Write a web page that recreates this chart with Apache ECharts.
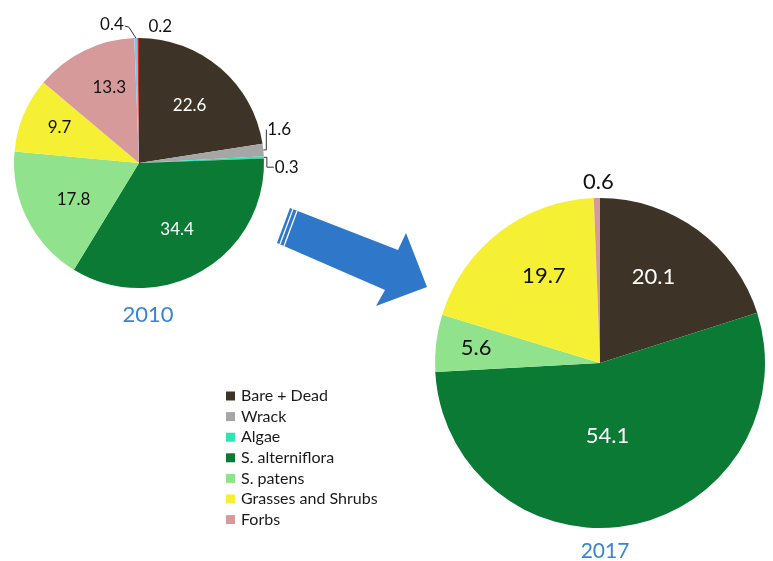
<!DOCTYPE html>
<html>
<head>
<meta charset="utf-8">
<script src="https://cdn.jsdelivr.net/npm/echarts@6/dist/echarts.min.js"></script>
<style>
html, body { margin: 0; padding: 0; background: #fff; }
#chart { width: 773px; height: 561px; }
</style>
</head>
<body>
<div id="chart"></div>
<script>
// land cover classes (last two are unlabelled slivers in 2010, not in the legend)
var categories = ['Bare + Dead', 'Wrack', 'Algae', 'S. alterniflora', 'S. patens', 'Grasses and Shrubs', 'Forbs', 'Other 1', 'Other 2'];
var legendNames = ['Bare + Dead', 'Wrack', 'Algae', 'S. alterniflora', 'S. patens', 'Grasses and Shrubs', 'Forbs'];
var values2010 = [22.6, 1.6, 0.3, 34.4, 17.8, 9.7, 13.3, 0.4, 0.2];
var values2017 = [20.1, 0, 0, 54.1, 5.6, 19.7, 0.6, 0, 0];
var years = ['2010', '2017'];

var colors = ['#3d3427', '#a6a6a6', '#2fe3b2', '#0b7a34', '#90e38c', '#f5f033', '#d69a9b', '#7fc8e6', '#d9261c'];
var whiteText = [true, false, false, true, false, false, false, false, false];
var FONT = 'Lato, "Open Sans", sans-serif';

// label nudges (dx, dy), Excel "best fit" positions
var nudge2010 = [[8, -8], [-4, -20], [3, 10], [5, 10], [-7, 7], [-19, -10], [-1, -17], [-7, -11], [39, -8]];
var nudge2017 = [[3, -17], [0, 0], [0, 0], [-8, -11], [-39, -5], [-4, -19], [22, -10], [0, 0], [0, 0]];
var noLine = [false, false, false, false, false, false, false, false, true];

function buildData(values, small) {
    var out = [];
    for (var i = 0; i < values.length; i++) {
        if (!values[i]) continue;
        var item = {
            name: categories[i],
            value: values[i],
            itemStyle: { color: colors[i] },
            label: { color: whiteText[i] ? '#ffffff' : '#111111' }
        };
        if (values[i] < small) {
            item.label.position = 'outside';
            item.label.color = '#111111';
            if (noLine[i]) item.labelLine = { show: false };
        }
        out.push(item);
    }
    return out;
}

function layoutFor(values, nudge) {
    // map data indices of the filtered list back to the categories
    var idx = [];
    for (var i = 0; i < values.length; i++) if (values[i]) idx.push(i);
    return function (p) {
        var k = idx[p.dataIndex];
        var n = nudge[k];
        var res = { dx: n[0], dy: n[1] };
        var pts = p.labelLinePoints;
        if (pts && pts.length && !noLine[k]) {
            var r = p.labelRect;
            var a = pts[0];
            var left = r.x + n[0], right = left + r.width;
            var midY = r.y + n[1] + r.height / 2;
            if (left > a[0]) {
                res.labelLinePoints = [[a[0], a[1]], [a[0] + 3, a[1]], [a[0] + 3, midY], [left - 1, midY]];
            } else {
                res.labelLinePoints = [[a[0], a[1]], [right + 5, midY + 3], [right + 1, midY + 2]];
            }
        }
        return res;
    };
}

var chart = echarts.init(document.getElementById('chart'), null, { renderer: 'canvas' });

var option = {
    backgroundColor: '#ffffff',
    animation: false,
    textStyle: { fontFamily: FONT },
    color: colors,
    title: [
        { text: years[0], left: 143, top: 299, textAlign: 'center',
          textStyle: { fontFamily: FONT, fontSize: 22, fontWeight: 'normal', color: '#3a84cf' } },
        { text: years[1], left: 600, top: 536, textAlign: 'center',
          textStyle: { fontFamily: FONT, fontSize: 21, fontWeight: 'normal', color: '#3a84cf' } }
    ],
    legend: {
        data: legendNames,
        orient: 'vertical',
        left: 226,
        top: 388,
        padding: 0,
        itemWidth: 9,
        itemHeight: 9,
        itemGap: 4.6,
        icon: 'rect',
        textStyle: { fontFamily: FONT, fontSize: 16, lineHeight: 15, color: '#1a1a1a', padding: [0, 0, 0, 1] }
    },
    graphic: [
        {
            type: 'polygon',
            shape: { points: [[290, 208], [398, 250], [406, 233], [427, 287], [376, 306], [385, 290], [277, 243]] },
            style: { fill: '#2f78c9' }
        },
        {
            type: 'line',
            shape: { x1: 293, y1: 209, x2: 280, y2: 244 },
            style: { stroke: '#ffffff', lineWidth: 1.3 }
        },
        {
            type: 'line',
            shape: { x1: 297, y1: 211, x2: 284, y2: 246 },
            style: { stroke: '#ffffff', lineWidth: 1.3 }
        }
    ],
    series: [
        {
            name: years[0],
            type: 'pie',
            center: [139, 163],
            radius: 125,
            startAngle: 90,
            clockwise: true,
            avoidLabelOverlap: false,
            itemStyle: { borderWidth: 0 },
            label: { show: true, position: 'inside', formatter: '{c}', fontSize: 17, fontFamily: FONT },
            labelLine: { show: true, length: 3, length2: 0, lineStyle: { color: '#333', width: 1 } },
            emphasis: { disabled: true },
            labelLayout: layoutFor(values2010, nudge2010),
            data: buildData(values2010, 2)
        },
        {
            name: years[1],
            type: 'pie',
            center: [600, 363],
            radius: 165,
            startAngle: 90,
            clockwise: true,
            avoidLabelOverlap: false,
            itemStyle: { borderWidth: 0 },
            label: { show: true, position: 'inside', formatter: '{c}', fontSize: 22, fontFamily: FONT },
            labelLine: { show: false, length: 6, length2: 0 },
            emphasis: { disabled: true },
            labelLayout: layoutFor(values2017, nudge2017),
            data: buildData(values2017, 1)
        }
    ]
};

chart.setOption(option);
</script>
</body>
</html>
